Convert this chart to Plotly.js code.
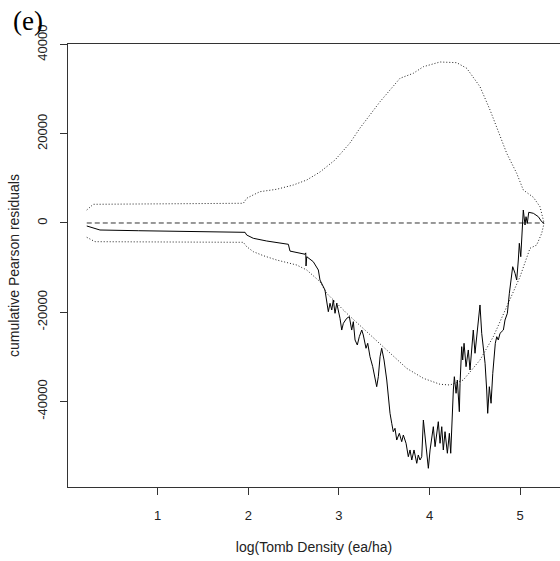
<!DOCTYPE html>
<html>
<head>
<meta charset="utf-8">
<script src="https://cdn.plot.ly/plotly-3.0.1.min.js"></script>
<style>
html,body{margin:0;padding:0;background:#fff;}
#chart{width:560px;height:561px;}
</style>
</head>
<body>
<div id="chart"></div>
<script>
// x values (log tomb density) and cumulative Pearson residuals
const residX = [0.217,0.363,0.786,1.577,1.964,1.982,2.055,2.203,2.442,2.460,2.571,2.626,2.634,2.637,2.645,2.717,2.773,2.791,2.846,2.865,2.883,2.902,2.921,2.938,2.957,2.976,3.012,3.031,3.049,3.086,3.115,3.141,3.159,3.178,3.203,3.225,3.252,3.269,3.299,3.318,3.343,3.373,3.398,3.417,3.435,3.454,3.472,3.498,3.528,3.545,3.564,3.583,3.600,3.619,3.638,3.667,3.693,3.711,3.741,3.766,3.785,3.804,3.829,3.859,3.876,3.895,3.914,3.932,3.950,3.969,3.987,4.006,4.024,4.042,4.061,4.080,4.097,4.116,4.135,4.152,4.171,4.197,4.219,4.234,4.245,4.263,4.274,4.293,4.307,4.329,4.337,4.355,4.366,4.381,4.403,4.428,4.447,4.466,4.483,4.502,4.521,4.539,4.557,4.576,4.594,4.613,4.631,4.642,4.660,4.679,4.698,4.712,4.726,4.742,4.759,4.778,4.815,4.833,4.859,4.881,4.896,4.918,4.944,4.962,4.980,4.991,5.007,5.018,5.029,5.035,5.054,5.065,5.079,5.095,5.146,5.201,5.238,5.264];
const residY = [-670,-1570,-1730,-1950,-2090,-2690,-3430,-4040,-4780,-6300,-6730,-7000,-6700,-9640,-7560,-8680,-10540,-12780,-15020,-17260,-19890,-18000,-19510,-17260,-20250,-18000,-21370,-24000,-22490,-21370,-21010,-24000,-22130,-26230,-27350,-25490,-23990,-25110,-28090,-26970,-29980,-32220,-34460,-36700,-34460,-29980,-28090,-30720,-35200,-39680,-42670,-44910,-46790,-46030,-48660,-47150,-49030,-47530,-49390,-52400,-50890,-53140,-50890,-53880,-52010,-53140,-52400,-44170,-47910,-51630,-55000,-50890,-48650,-45670,-50150,-47150,-44550,-49390,-45670,-50890,-46790,-51630,-47150,-51630,-44170,-37440,-34460,-38180,-35200,-42310,-35940,-27730,-30720,-26970,-32220,-28470,-32960,-27730,-23990,-29210,-25490,-23250,-18380,-24730,-27730,-31450,-37440,-42670,-36700,-40420,-33700,-30720,-26970,-25490,-26230,-24730,-23990,-21750,-20250,-15760,-12780,-9800,-11280,-12780,-8300,-4550,-7560,-2310,2170,2910,-450,1410,-70,2400,2170,1410,290,-70];

// upper dotted bound
const upperX = [0.217,0.289,1.945,1.982,2.055,2.129,2.313,2.497,2.645,2.791,2.957,3.122,3.233,3.343,3.454,3.564,3.674,3.821,3.932,4.116,4.300,4.411,4.557,4.668,4.778,4.852,4.962,5.035,5.146,5.219,5.264];
const upperY = [2910,4190,4420,5540,6300,7020,7560,8520,9640,11430,14120,17940,21300,24210,27200,29820,32440,33560,35040,36100,35940,34680,30560,25330,19350,15630,11140,7400,5760,3650,0];

// lower dotted bound
const lowerX = [0.217,0.308,1.945,1.982,2.055,2.166,2.313,2.534,2.645,2.791,2.865,3.086,3.307,3.528,3.748,3.932,4.116,4.226,4.373,4.557,4.704,4.852,4.999,5.109,5.183,5.238,5.264];
const lowerY = [-3210,-4190,-4330,-5310,-6430,-7330,-8300,-9420,-10540,-13160,-15760,-20250,-24370,-28470,-32580,-34820,-36160,-36320,-35200,-30720,-25490,-18770,-12040,-5670,-4930,-2310,-70];

// reference (zero) line
const zeroX = [0.217,5.264];
const zeroY = [0,0];

const xTicks = [1,2,3,4,5];
const yTicks = [-40000,-20000,0,20000,40000];

const fontFam = '"Liberation Sans", Arial, sans-serif';

const traces = [
  {x: zeroX, y: zeroY, mode:'lines', line:{color:'#333', width:1, dash:'5px,3px'}, hoverinfo:'skip'},
  {x: upperX, y: upperY, mode:'lines', line:{color:'#222', width:1, dash:'1px,2px'}, hoverinfo:'skip'},
  {x: lowerX, y: lowerY, mode:'lines', line:{color:'#222', width:1, dash:'1px,2px'}, hoverinfo:'skip'},
  {x: residX, y: residY, mode:'lines', line:{color:'#000', width:1}, hoverinfo:'skip'}
];

const layout = {
  width:560, height:561,
  margin:{l:68, r:0, t:44, b:74, pad:0},
  paper_bgcolor:'#fff', plot_bgcolor:'#fff',
  showlegend:false,
  font:{family:fontFam, color:'#222', size:13},
  xaxis:{
    range:[0.01,5.44], tickvals:xTicks, ticktext:xTicks.map(String),
    ticks:'outside', ticklen:7, tickcolor:'#333', tickwidth:1, ticklabelstandoff:9,
    showline:true, linecolor:'#333', linewidth:1, mirror:true,
    showgrid:false, zeroline:false,
    tickfont:{size:13, family:fontFam, color:'#222'},
    title:{text:'log(Tomb Density (ea/ha)', font:{size:14, family:fontFam, color:'#222'}, standoff:20}
  },
  yaxis:{
    range:[-59190,40130], tickvals:yTicks, ticktext:yTicks.map(String),
    ticks:'outside', ticklen:7, tickcolor:'#333', tickwidth:1, tickangle:-90, ticklabelstandoff:8,
    showline:true, linecolor:'#333', linewidth:1, mirror:false,
    showgrid:false, zeroline:false,
    tickfont:{size:13, family:fontFam, color:'#222'},
    title:{text:'cumulative Pearson residuals', font:{size:14, family:fontFam, color:'#222'}, standoff:11}
  },
  annotations:[
    {text:'(e)', xref:'paper', yref:'paper', x:(11-68)/492, y:(487-21)/443,
     xanchor:'left', yanchor:'middle', showarrow:false,
     font:{family:'"Liberation Serif", "Times New Roman", serif', size:27, color:'#000'}}
  ]
};

Plotly.newPlot('chart', traces, layout, {staticPlot:true, displayModeBar:false});
</script>
</body>
</html>
